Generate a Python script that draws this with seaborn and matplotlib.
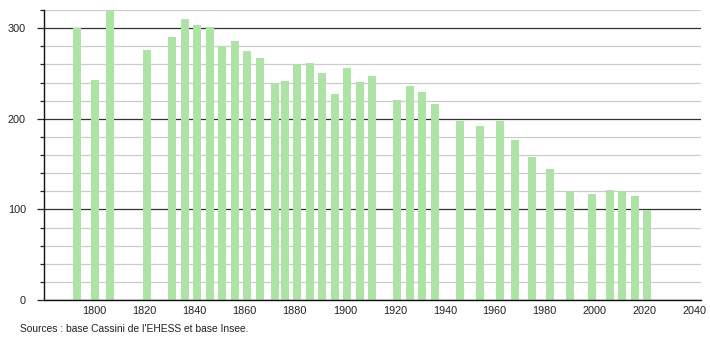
import matplotlib
matplotlib.use('Agg')
import matplotlib.pyplot as plt
import seaborn as sns
import pandas as pd
import numpy as np

years = [1793, 1800, 1806, 1821, 1831, 1836, 1841, 1846, 1851, 1856,
         1861, 1866, 1872, 1876, 1881, 1886, 1891, 1896, 1901, 1906,
         1911, 1921, 1926, 1931, 1936, 1946, 1954, 1962, 1968, 1975,
         1982, 1990, 1999, 2006, 2011, 2016, 2021]
population = [300, 243, 325, 276, 290, 310, 303, 301, 280, 286,
              275, 267, 239, 242, 260, 262, 251, 227, 256, 241,
              247, 221, 236, 229, 216, 198, 192, 198, 177, 158,
              145, 120, 117, 121, 120, 115, 99]
x_ticks = [1800, 1820, 1840, 1860, 1880, 1900, 1920, 1940, 1960, 1980, 2000, 2020, 2040]
y_major = [0, 100, 200, 300]
source_text = "Sources : base Cassini de l'EHESS et base Insee."

sns.set_style("white")
plt.rcParams['font.family'] = ['Liberation Sans', 'DejaVu Sans']

df = pd.DataFrame({"year": years, "pop": population})

fig = plt.figure(figsize=(7.1, 3.4), dpi=100)
ax = fig.add_axes([44 / 710, 40 / 340, (700.7 - 44) / 710, 290 / 340])

sns.barplot(data=df, x="year", y="pop", native_scale=True, color="#ade3a5",
            saturation=1, width=0.8, ax=ax, errorbar=None, linewidth=0)

ax.set_xlim(1779.7, 2042.4)
ax.set_ylim(0, 320)
ax.set_axisbelow(True)

ax.set_xticks(x_ticks)
ax.set_xticklabels([str(t) for t in x_ticks])
ax.set_yticks(y_major)
ax.set_yticklabels([str(t) for t in y_major])
minor = [v for v in range(20, 321, 20) if v not in y_major]
ax.set_yticks(minor, minor=True)

ax.yaxis.grid(True, which='major', color='#333333', lw=0.9)
ax.yaxis.grid(True, which='minor', color='#cccccc', lw=0.9)
ax.xaxis.grid(False)

ax.tick_params(axis='x', length=0, pad=4, labelsize=7.8, colors='#222222')
ax.tick_params(axis='y', which='major', length=5, width=0.9, pad=8, labelsize=7.8,
               color='#222222', labelcolor='#222222', left=True)
ax.tick_params(axis='y', which='minor', length=3, width=0.9, color='#222222', left=True)

for side in ['top', 'right']:
    ax.spines[side].set_visible(False)
for side in ['left', 'bottom']:
    ax.spines[side].set_color('#111111')
    ax.spines[side].set_linewidth(1.0)

ax.set_xlabel("")
ax.set_ylabel("")

fig.text(20 / 710, 1 - 329 / 340, source_text, fontsize=7.4, color='#222222',
         ha='left', va='center')

fig.savefig("out.png", dpi=100)
